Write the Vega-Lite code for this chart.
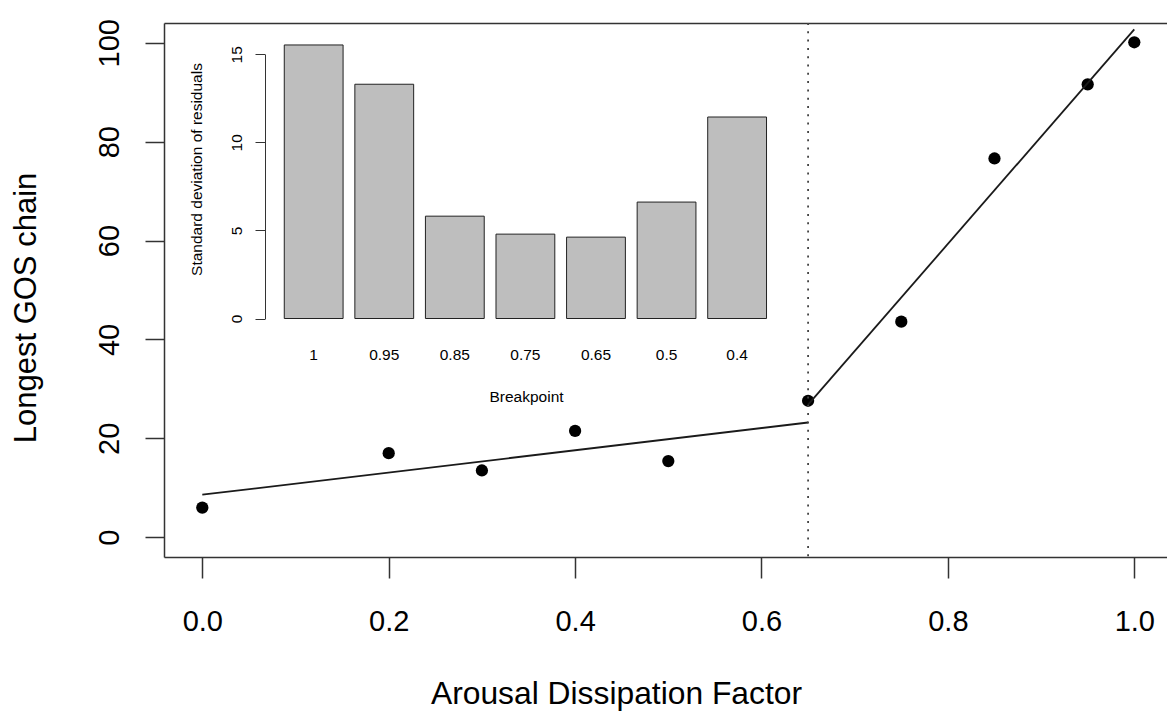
{
  "$schema": "https://vega.github.io/schema/vega-lite/v6.json",
  "width": 1003,
  "height": 534,
  "autosize": {"type": "none"},
  "padding": {"left": 164, "top": 23, "right": 0, "bottom": 154},
  "background": "white",
  "config": {
    "view": {"stroke": null},
    "axis": {
      "grid": false,
      "labelFont": "Liberation Sans",
      "titleFont": "Liberation Sans",
      "labelColor": "#000",
      "titleColor": "#000",
      "titleFontWeight": "normal",
      "domainColor": "#333",
      "tickColor": "#333",
      "labelOverlap": false,
      "labelFlush": false
    }
  },
  "datasets": {
    "pts": [
      {"factor": 0.0, "chain": 6.0},
      {"factor": 0.2, "chain": 17.0},
      {"factor": 0.3, "chain": 13.5},
      {"factor": 0.4, "chain": 21.5},
      {"factor": 0.5, "chain": 15.4},
      {"factor": 0.65, "chain": 27.6},
      {"factor": 0.75, "chain": 43.6},
      {"factor": 0.85, "chain": 76.6},
      {"factor": 0.95, "chain": 91.6},
      {"factor": 1.0, "chain": 100.1}
    ],
    "fit": [
      {"segment": "below", "factor": 0.0, "chain": 8.6},
      {"segment": "below", "factor": 0.65, "chain": 23.2},
      {"segment": "above", "factor": 0.65, "chain": 26.8},
      {"segment": "above", "factor": 1.0, "chain": 102.7}
    ],
    "bp": [{"factor": 0.65}],
    "sd": [
      {"breakpoint": "1", "sd": 15.53},
      {"breakpoint": "0.95", "sd": 13.3},
      {"breakpoint": "0.85", "sd": 5.81},
      {"breakpoint": "0.75", "sd": 4.79},
      {"breakpoint": "0.65", "sd": 4.62},
      {"breakpoint": "0.5", "sd": 6.61},
      {"breakpoint": "0.4", "sd": 11.44}
    ]
  },
  "layer": [
    {
      "layer": [
        {
          "data": {"name": "pts"},
          "mark": {"type": "point", "filled": true, "shape": "circle", "size": 150, "color": "#000", "opacity": 1},
          "encoding": {
            "x": {
              "field": "factor", "type": "quantitative",
              "scale": {"domain": [-0.0411, 1.0351], "nice": false, "zero": false},
              "axis": {
                "orient": "bottom",
                "values": [0, 0.2, 0.4, 0.6, 0.8, 1.0],
                "format": ".1f",
                "tickSize": 21, "tickWidth": 1.5, "domainWidth": 1.5,
                "labelPadding": 29, "labelFontSize": 29,
                "title": "Arousal Dissipation Factor",
                "titleFontSize": 31.8, "titleBaseline": "alphabetic", "titleAlign": "center",
                "titleX": 452, "titleY": 146
              }
            },
            "y": {
              "field": "chain", "type": "quantitative",
              "scale": {"domain": [-4, 104], "nice": false, "zero": false},
              "axis": {
                "orient": "left",
                "values": [0, 20, 40, 60, 80, 100],
                "tickSize": 19, "tickWidth": 1.5, "domainWidth": 1.5,
                "labelAngle": -90, "labelAlign": "center", "labelBaseline": "alphabetic",
                "labelPadding": 27, "labelFontSize": 29,
                "title": "Longest GOS chain",
                "titleFontSize": 31, "titleAngle": -90, "titleBaseline": "alphabetic", "titleAlign": "center",
                "titleX": -128.5, "titleY": 284.5
              }
            }
          }
        },
        {
          "data": {"name": "fit"},
          "mark": {"type": "line", "color": "#1a1a1a", "strokeWidth": 1.8},
          "encoding": {
            "x": {
              "field": "factor", "type": "quantitative",
              "axis": {"orient": "top", "labels": false, "ticks": false, "title": null, "domainWidth": 1.5}
            },
            "y": {"field": "chain", "type": "quantitative", "axis": null},
            "detail": {"field": "segment"}
          }
        },
        {
          "data": {"name": "bp"},
          "mark": {"type": "rule", "color": "#444", "strokeWidth": 1.8, "strokeDash": [2, 6.3]},
          "encoding": {
            "x": {"field": "factor", "type": "quantitative", "axis": null}
          }
        }
      ],
      "resolve": {"axis": {"x": "independent", "y": "independent"}}
    },
    {
      "data": {"name": "sd"},
      "mark": {"type": "bar", "color": "#BEBEBE", "stroke": "#222", "strokeWidth": 1},
      "encoding": {
        "x": {
          "field": "breakpoint", "type": "nominal", "sort": null,
          "scale": {"range": [114.4, 608.4], "paddingInner": 0.1667, "paddingOuter": 0.0833},
          "axis": {
            "orient": "bottom", "offset": -238,
            "domain": false, "ticks": false,
            "labelAngle": 0, "labelPadding": 28, "labelFontSize": 15.5,
            "title": "Breakpoint", "titleFontSize": 15.5, "titleBaseline": "alphabetic", "titleAlign": "center",
            "titleX": 362, "titleY": 82
          }
        },
        "y": {
          "field": "sd", "type": "quantitative",
          "scale": {"domain": [0, 15], "range": [295.5, 31.3], "nice": false, "zero": true},
          "axis": {
            "orient": "left", "offset": -101,
            "values": [0, 5, 10, 15],
            "tickSize": 10, "tickWidth": 1, "domainWidth": 1,
            "labelAngle": -90, "labelAlign": "center", "labelBaseline": "alphabetic",
            "labelPadding": 14, "labelFontSize": 15.5,
            "title": "Standard deviation of residuals",
            "titleFontSize": 15.5, "titleAngle": -90, "titleBaseline": "alphabetic", "titleAlign": "center",
            "titleX": -63.5, "titleY": 146
          }
        }
      }
    }
  ],
  "resolve": {
    "scale": {"x": "independent", "y": "independent"},
    "axis": {"x": "independent", "y": "independent"}
  }
}
